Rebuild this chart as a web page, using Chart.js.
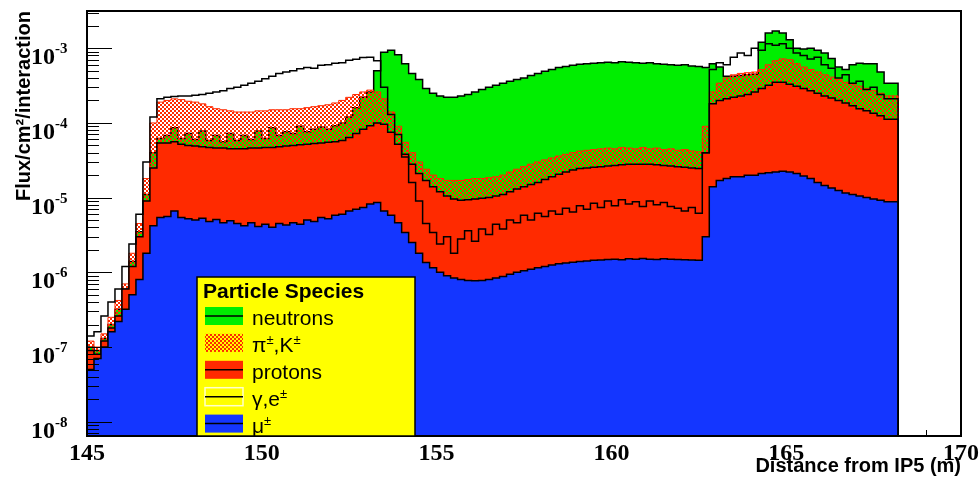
<!DOCTYPE html>
<html>
<head>
<meta charset="utf-8">
<script src="https://cdn.jsdelivr.net/npm/chart.js@4.4.0/dist/chart.umd.min.js"></script>
<style>
  html, body { margin: 0; padding: 0; background: #fff; }
  #wrap { width: 980px; height: 480px; }
</style>
</head>
<body>
<div id="wrap"><canvas id="fluxChart" width="980" height="480"></canvas></div>
<script>
// histogram binning (m), 0.2 m bins from 145.0 m
const binStart = 145.0;
const binWidth = 0.2;

// axis ranges / ticks
const xMin = 145, xMax = 170;
const yMin = 6.44e-9, yMax = 3.15e-3;
const xTickLabels = [145, 150, 155, 160, 165, 170];
const yTickExponents = [-8, -7, -6, -5, -4, -3];

// flux per bin
const neutrons = [
  4e-8, 1e-7, 9e-8, 1.3e-7, 2e-7, 3.2e-7, 6e-7, 1.4e-6, 3.5e-6, 1.1e-5,
  4e-5, 6.2e-5, 6.8e-5, 8.6e-5, 6.2e-5, 7.2e-5, 6e-5, 7.8e-5, 5.8e-5, 6.8e-5,
  5.6e-5, 7.2e-5, 5.8e-5, 6.8e-5, 6e-5, 7.8e-5, 6.2e-5, 8.6e-5, 6.8e-5, 7.6e-5,
  7.2e-5, 9e-5, 7.6e-5, 8.2e-5, 8.8e-5, 8.2e-5, 9.2e-5, 1.0e-4, 1.2e-4, 1.6e-4,
  2.2e-4, 2.6e-4, 5e-4, 8.8e-4, 9.4e-4, 8.2e-4, 6.2e-4, 4.6e-4, 3.8e-4, 2.9e-4,
  2.5e-4, 2.3e-4, 2.2e-4, 2.2e-4, 2.3e-4, 2.4e-4, 2.6e-4, 2.8e-4, 3.0e-4, 3.2e-4,
  3.4e-4, 3.6e-4, 3.8e-4, 4.0e-4, 4.3e-4, 4.6e-4, 4.9e-4, 5.2e-4, 5.5e-4, 5.7e-4,
  5.9e-4, 6.1e-4, 6.2e-4, 6.3e-4, 6.4e-4, 6.5e-4, 6.4e-4, 6.6e-4, 6.5e-4, 6.4e-4,
  6.3e-4, 6.4e-4, 6.2e-4, 6.1e-4, 6.0e-4, 5.9e-4, 6.0e-4, 5.8e-4, 5.7e-4, 5.5e-4,
  6.2e-4, 5.6e-4, 4.2e-4, 4.2e-4, 4.3e-4, 4.4e-4, 4.5e-4, 1.2e-3, 1.6e-3, 1.7e-3,
  1.6e-3, 1.3e-3, 1.0e-3, 9.8e-4, 1.0e-3, 9.4e-4, 8.6e-4, 7.3e-4, 5.6e-4, 5.2e-4,
  6.0e-4, 6.3e-4, 6.2e-4, 6.2e-4, 4.8e-4, 3.4e-4
];
const pionsKaons = [
  5e-8, 1.2e-7, 1.0e-7, 1.5e-7, 2.5e-7, 4.2e-7, 7e-7, 1.8e-6, 4.5e-6, 1.8e-5,
  1.0e-4, 1.9e-4, 2.0e-4, 2.1e-4, 2.05e-4, 1.95e-4, 1.9e-4, 1.8e-4, 1.65e-4, 1.55e-4,
  1.5e-4, 1.45e-4, 1.4e-4, 1.4e-4, 1.4e-4, 1.45e-4, 1.45e-4, 1.5e-4, 1.5e-4, 1.5e-4,
  1.55e-4, 1.55e-4, 1.6e-4, 1.65e-4, 1.7e-4, 1.75e-4, 1.85e-4, 2.0e-4, 2.2e-4, 2.4e-4,
  2.6e-4, 2.75e-4, 2.6e-4, 2.1e-4, 1.4e-4, 9e-5, 5.5e-5, 4e-5, 3e-5, 2.4e-5,
  2.0e-5, 1.8e-5, 1.7e-5, 1.7e-5, 1.7e-5, 1.75e-5, 1.8e-5, 1.8e-5, 1.85e-5, 1.9e-5,
  2.0e-5, 2.2e-5, 2.4e-5, 2.6e-5, 2.8e-5, 3.0e-5, 3.2e-5, 3.4e-5, 3.6e-5, 3.8e-5,
  4.0e-5, 4.2e-5, 4.3e-5, 4.4e-5, 4.5e-5, 4.6e-5, 4.5e-5, 4.7e-5, 4.6e-5, 4.5e-5,
  4.7e-5, 4.5e-5, 4.6e-5, 4.4e-5, 4.5e-5, 4.3e-5, 4.4e-5, 4.2e-5, 4.1e-5, 9e-5,
  2.6e-4, 3.4e-4, 4.0e-4, 4.4e-4, 4.6e-4, 4.7e-4, 4.8e-4, 5.2e-4, 6.0e-4, 6.8e-4,
  7.2e-4, 7.0e-4, 6.2e-4, 5.6e-4, 5.2e-4, 4.8e-4, 4.4e-4, 4.1e-4, 3.8e-4, 3.5e-4,
  3.3e-4, 3.1e-4, 2.9e-4, 2.7e-4, 2.5e-4, 2.3e-4
];
const protons = [
  4e-8, 9e-8, 8e-8, 1.2e-7, 1.8e-7, 2.6e-7, 6e-7, 1.2e-6, 3e-6, 9e-6,
  2.5e-5, 5.4e-5, 5.4e-5, 5.6e-5, 5.2e-5, 5.0e-5, 4.9e-5, 4.8e-5, 4.7e-5, 4.6e-5,
  4.6e-5, 4.5e-5, 4.5e-5, 4.5e-5, 4.6e-5, 4.6e-5, 4.7e-5, 4.7e-5, 4.8e-5, 4.9e-5,
  5.0e-5, 5.1e-5, 5.2e-5, 5.3e-5, 5.4e-5, 5.5e-5, 5.6e-5, 5.8e-5, 6.4e-5, 7.2e-5,
  8.2e-5, 9.2e-5, 1.0e-4, 9.6e-5, 7.5e-5, 5.2e-5, 3.8e-5, 2.8e-5, 2.1e-5, 1.7e-5,
  1.4e-5, 1.2e-5, 1.05e-5, 9.6e-6, 9.2e-6, 9.4e-6, 9.6e-6, 9.8e-6, 1.0e-5, 1.05e-5,
  1.1e-5, 1.2e-5, 1.3e-5, 1.4e-5, 1.5e-5, 1.6e-5, 1.75e-5, 1.9e-5, 2.05e-5, 2.2e-5,
  2.35e-5, 2.45e-5, 2.5e-5, 2.55e-5, 2.6e-5, 2.65e-5, 2.7e-5, 2.75e-5, 2.8e-5, 2.8e-5,
  2.8e-5, 2.8e-5, 2.75e-5, 2.7e-5, 2.65e-5, 2.6e-5, 2.55e-5, 2.5e-5, 2.45e-5, 4e-5,
  1.8e-4, 2.0e-4, 2.1e-4, 2.2e-4, 2.3e-4, 2.4e-4, 2.6e-4, 2.9e-4, 3.2e-4, 3.5e-4,
  3.5e-4, 3.3e-4, 3.1e-4, 2.9e-4, 2.7e-4, 2.5e-4, 2.3e-4, 2.15e-4, 2.0e-4, 1.85e-4,
  1.7e-4, 1.55e-4, 1.45e-4, 1.35e-4, 1.25e-4, 1.12e-4
];
const gammaElectrons = [
  1.2e-7, 1.4e-7, 1.6e-7, 2.6e-7, 4e-7, 6e-7, 1.2e-6, 2.4e-6, 6e-6, 3e-5,
  1.2e-4, 2.1e-4, 2.2e-4, 2.25e-4, 2.3e-4, 2.3e-4, 2.35e-4, 2.4e-4, 2.5e-4, 2.6e-4,
  2.7e-4, 2.9e-4, 3.0e-4, 3.2e-4, 3.4e-4, 3.6e-4, 3.9e-4, 4.2e-4, 4.6e-4, 4.8e-4,
  5.0e-4, 5.3e-4, 5.5e-4, 5.4e-4, 5.9e-4, 6.0e-4, 6.3e-4, 6.4e-4, 6.9e-4, 7.1e-4,
  7.5e-4, 7.6e-4, 6.8e-4, 3.0e-4, 1.3e-4, 7e-5, 3.5e-5, 1.6e-5, 9e-6, 4.5e-6,
  3.4e-6, 2.4e-6, 3.0e-6, 1.8e-6, 2.8e-6, 3.6e-6, 2.6e-6, 3.8e-6, 3.2e-6, 4.4e-6,
  3.8e-6, 5.0e-6, 4.6e-6, 5.8e-6, 5.0e-6, 6.2e-6, 5.6e-6, 6.6e-6, 6.0e-6, 7.2e-6,
  6.4e-6, 7.8e-6, 7.0e-6, 8.4e-6, 7.4e-6, 9.0e-6, 7.8e-6, 9.4e-6, 8.2e-6, 8.8e-6,
  7.6e-6, 9.0e-6, 8.0e-6, 8.6e-6, 7.6e-6, 7.2e-6, 6.6e-6, 7.4e-6, 6.2e-6, 4e-5,
  5.2e-4, 6.4e-4, 6.0e-4, 7.6e-4, 8.6e-4, 8.0e-4, 1.0e-3, 9.4e-4, 1.15e-3, 1.1e-3,
  1.15e-3, 1.0e-3, 8.6e-4, 8.0e-4, 7.2e-4, 7.6e-4, 6.0e-4, 5.4e-4, 4.0e-4, 4.4e-4,
  3.4e-4, 3.6e-4, 2.8e-4, 3.0e-4, 2.4e-4, 2.1e-4
];
const muons = [
  8e-9, 5e-8, 7e-8, 1.0e-7, 1.6e-7, 2.2e-7, 3.2e-7, 5e-7, 8e-7, 1.8e-6,
  4.2e-6, 5.4e-6, 5.6e-6, 6.6e-6, 5.4e-6, 5.2e-6, 5.0e-6, 5.3e-6, 4.8e-6, 5.1e-6,
  4.6e-6, 4.9e-6, 4.5e-6, 4.2e-6, 4.6e-6, 4.1e-6, 4.4e-6, 4.0e-6, 4.5e-6, 4.3e-6,
  4.6e-6, 4.4e-6, 5.0e-6, 4.8e-6, 5.4e-6, 5.2e-6, 5.8e-6, 6.0e-6, 6.6e-6, 7.0e-6,
  7.4e-6, 8.2e-6, 8.6e-6, 6.6e-6, 5.8e-6, 4.6e-6, 3.4e-6, 2.5e-6, 1.8e-6, 1.35e-6,
  1.15e-6, 1.0e-6, 9.0e-7, 8.4e-7, 8.0e-7, 7.8e-7, 7.7e-7, 7.8e-7, 8.0e-7, 8.4e-7,
  8.8e-7, 9.4e-7, 1.0e-6, 1.05e-6, 1.1e-6, 1.15e-6, 1.2e-6, 1.25e-6, 1.3e-6, 1.33e-6,
  1.36e-6, 1.4e-6, 1.42e-6, 1.45e-6, 1.46e-6, 1.48e-6, 1.5e-6, 1.47e-6, 1.52e-6, 1.5e-6,
  1.53e-6, 1.5e-6, 1.49e-6, 1.52e-6, 1.5e-6, 1.48e-6, 1.47e-6, 1.46e-6, 1.45e-6, 3e-6,
  1.4e-5, 1.7e-5, 1.8e-5, 1.9e-5, 1.9e-5, 2.0e-5, 2.0e-5, 2.1e-5, 2.15e-5, 2.2e-5,
  2.25e-5, 2.2e-5, 2.1e-5, 1.95e-5, 1.8e-5, 1.6e-5, 1.45e-5, 1.35e-5, 1.25e-5, 1.15e-5,
  1.1e-5, 1.05e-5, 1.0e-5, 9.6e-6, 9.2e-6, 8.8e-6
];

// colours
const green = '#00ee00';
const red = '#ff2a00';
const blue = '#1436ff';
const yellow = '#ffff00';

// checkered fill like ROOT's pattern style
function checkerPattern(color) {
  const c = document.createElement('canvas');
  c.width = 4; c.height = 4;
  const g = c.getContext('2d');
  g.fillStyle = color;
  g.fillRect(0, 0, 2, 2);
  g.fillRect(2, 2, 2, 2);
  return g.createPattern(c, 'repeat');
}
const pionFill = checkerPattern(red);

// histogram outline: drop to the axis at both ends
function histPoints(values) {
  const pts = [{ x: binStart, y: yMin }];
  values.forEach((v, i) => pts.push({ x: binStart + i * binWidth, y: v }));
  const end = binStart + values.length * binWidth;
  pts.push({ x: end, y: values[values.length - 1] });
  pts.push({ x: end, y: yMin });
  return pts;
}

function histDataset(label, values, opts) {
  return Object.assign({
    label: label,
    data: histPoints(values),
    stepped: 'after',
    pointRadius: 0,
    borderWidth: 1.5,
    borderColor: '#000',
    fill: 'start'
  }, opts);
}

// legend rows: [text, superscript?] pieces
const legendRows = [
  { parts: [['neutrons', false]], fill: green, line: true },
  { parts: [['\u03c0', false], ['\u00b1', true], [',K', false], ['\u00b1', true]], fill: pionFill, line: false },
  { parts: [['protons', false]], fill: red, line: true },
  { parts: [['\u03b3', false], [',e', false], ['\u00b1', true]], fill: null, line: true },
  { parts: [['\u03bc', false], ['\u00b1', true]], fill: blue, line: true }
];

function drawRich(ctx, parts, x, y, size) {
  parts.forEach(([t, sup]) => {
    if (sup) {
      ctx.font = Math.round(size * 0.62) + 'px "Liberation Sans", Arial, sans-serif';
      ctx.fillText(t, x, y - size * 0.38);
    } else {
      ctx.font = size + 'px "Liberation Sans", Arial, sans-serif';
      ctx.fillText(t, x, y);
    }
    x += ctx.measureText(t).width;
  });
}

const rootFrame = {
  id: 'rootFrame',
  beforeDatasetsDraw(chart) {
    const { ctx, chartArea: a, scales: { x } } = chart;
    ctx.save();
    ctx.strokeStyle = '#000';
    ctx.lineWidth = 1;
    for (let m = xMin; m <= xMax; m++) {
      const px = Math.round(x.getPixelForValue(m)) + 0.5;
      const len = m % 5 === 0 ? 12 : 6;
      ctx.beginPath();
      ctx.moveTo(px, a.bottom);
      ctx.lineTo(px, a.bottom - len);
      ctx.stroke();
    }
    ctx.restore();
  },
  afterDatasetsDraw(chart) {
    const { ctx, chartArea: a, scales: { x, y } } = chart;
    ctx.save();
    // y ticks (log)
    ctx.strokeStyle = '#000';
    ctx.lineWidth = 1;
    for (let e = -9; e <= -3; e++) {
      for (let k = 1; k <= 9; k++) {
        const v = k * Math.pow(10, e);
        if (v < yMin || v > yMax) continue;
        const py = Math.round(y.getPixelForValue(v)) + 0.5;
        ctx.beginPath();
        ctx.moveTo(a.left, py);
        ctx.lineTo(a.left + (k === 1 ? 25 : 12), py);
        ctx.stroke();
      }
    }
    // frame
    ctx.lineWidth = 2;
    ctx.strokeRect(a.left, a.top, a.right - a.left, a.bottom - a.top);

    // x tick labels
    ctx.fillStyle = '#000';
    ctx.font = 'bold 24px "Liberation Serif", "Times New Roman", serif';
    ctx.textAlign = 'center';
    ctx.textBaseline = 'alphabetic';
    xTickLabels.forEach(v => {
      ctx.fillText(String(v), x.getPixelForValue(v), a.bottom + 24);
    });
    // y tick labels 10^n
    yTickExponents.forEach(e => {
      const py = y.getPixelForValue(Math.pow(10, e));
      ctx.font = 'bold 24px "Liberation Serif", "Times New Roman", serif';
      ctx.textAlign = 'right';
      ctx.fillText('10', 55, py + 16);
      ctx.font = 'bold 15px "Liberation Serif", "Times New Roman", serif';
      ctx.textAlign = 'left';
      ctx.fillText(String(e), 55, py + 5);
    });

    // axis titles
    ctx.font = 'bold 20px "Liberation Sans", Arial, sans-serif';
    ctx.textAlign = 'right';
    ctx.fillText('Distance from IP5 (m)', a.right, 472);
    ctx.save();
    ctx.translate(24, a.top);
    ctx.rotate(-Math.PI / 2);
    ctx.textBaseline = 'middle';
    ctx.fillText('Flux/cm\u00b2/interaction', 0, 0);
    ctx.restore();

    // legend box
    const L = { left: 197, top: 277, right: 415, bottom: a.bottom };
    ctx.fillStyle = yellow;
    ctx.fillRect(L.left, L.top, L.right - L.left, L.bottom - L.top);
    ctx.lineWidth = 1.5;
    ctx.strokeStyle = '#000';
    ctx.strokeRect(L.left, L.top, L.right - L.left, L.bottom - L.top);

    ctx.fillStyle = '#000';
    ctx.textAlign = 'left';
    ctx.textBaseline = 'alphabetic';
    ctx.font = 'bold 21px "Liberation Sans", Arial, sans-serif';
    ctx.fillText('Particle Species', 203, 298);

    legendRows.forEach((row, i) => {
      const cy = 316 + i * 26.9;
      const bx = 205, bw = 38, bh = 18;
      if (row.fill) {
        ctx.fillStyle = row.fill;
        ctx.fillRect(bx, cy - bh / 2, bw, bh);
      } else {
        ctx.strokeStyle = 'rgba(255,255,255,0.8)';
        ctx.lineWidth = 1.5;
        ctx.strokeRect(bx, cy - bh / 2, bw, bh);
      }
      if (row.line) {
        ctx.strokeStyle = '#000';
        ctx.lineWidth = 1.5;
        ctx.beginPath();
        ctx.moveTo(bx, cy);
        ctx.lineTo(bx + bw, cy);
        ctx.stroke();
      }
      ctx.fillStyle = '#000';
      drawRich(ctx, row.parts, 252, cy + 9, 21);
    });
    ctx.restore();
  }
};

const ctx = document.getElementById('fluxChart').getContext('2d');
const fluxChart = new Chart(ctx, {
  type: 'line',
  data: {
    datasets: [
      histDataset('\u03b3,e\u00b1', gammaElectrons, { fill: false, order: 0 }),
      histDataset('\u03bc\u00b1', muons, { backgroundColor: blue, order: 1 }),
      histDataset('protons', protons, { backgroundColor: red, order: 2 }),
      histDataset('\u03c0\u00b1,K\u00b1', pionsKaons, { backgroundColor: pionFill, borderColor: red, borderWidth: 1, order: 3 }),
      histDataset('neutrons', neutrons, { backgroundColor: green, order: 4 })
    ]
  },
  options: {
    responsive: false,
    devicePixelRatio: 1,
    animation: false,
    events: [],
    layout: { padding: { left: 87, right: 19, top: 11, bottom: 44 } },
    scales: {
      x: { type: 'linear', min: xMin, max: xMax, display: false },
      y: { type: 'logarithmic', min: yMin, max: yMax, display: false }
    },
    plugins: {
      legend: { display: false },
      tooltip: { enabled: false }
    }
  },
  plugins: [rootFrame]
});
</script>
</body>
</html>
